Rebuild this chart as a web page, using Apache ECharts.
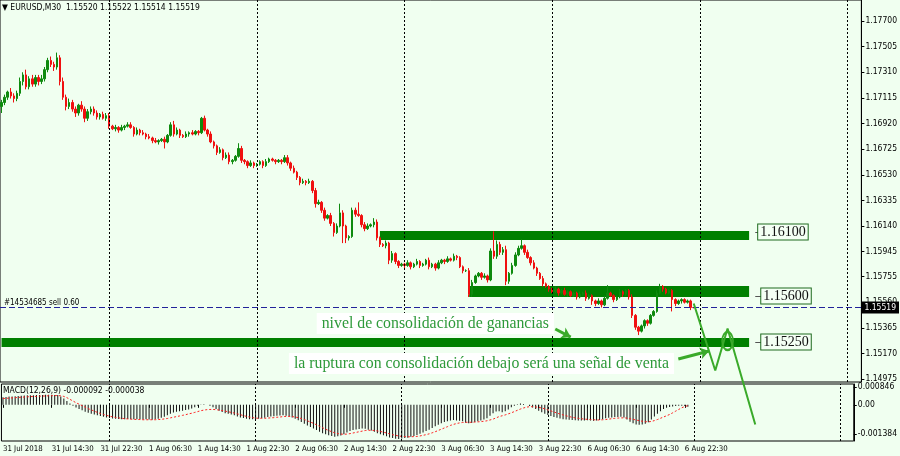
<!DOCTYPE html>
<html><head><meta charset="utf-8">
<script src="https://cdn.jsdelivr.net/npm/echarts@6/dist/echarts.min.js"></script>
<style>html,body{margin:0;padding:0;background:#F0FFF0;}#c{width:900px;height:456px;}</style>
</head><body><div id="c"></div>
<script>
const header = '\u25BC EURUSD,M30  1.15520 1.15522 1.15514 1.15519';
const macdTitle = 'MACD(12,26,9) -0.000092 -0.000038';
const firstOpen = 1.1705;
const closes = [
1.1708,1.1712,1.1716,1.1713,1.1711,1.1715,1.1724,1.1729,1.1720,1.1726,
1.1722,1.1727,1.1724,1.1726,1.1733,1.1740,1.1737,1.1735,1.1742,1.1724,
1.1712,1.1705,1.1708,1.1703,1.1700,1.1706,1.1703,1.1696,1.1701,1.1703,
1.1700,1.1697,1.1699,1.1696,1.1698,1.1690,1.1688,1.1689,1.1687,1.1689,
1.1690,1.1691,1.1689,1.1684,1.1687,1.1685,1.1684,1.1682,1.1681,1.1679,
1.1678,1.1679,1.1680,1.1678,1.1683,1.1691,1.1684,1.1687,1.1683,1.1682,
1.1684,1.1685,1.1684,1.1686,1.1685,1.1696,1.1687,1.1684,1.1678,1.1675,
1.1670,1.1672,1.1666,1.1668,1.1663,1.1664,1.1667,1.1673,1.1664,1.1663,
1.1660,1.1662,1.1660,1.1661,1.1663,1.1660,1.1663,1.1665,1.1664,1.1663,
1.1664,1.1663,1.1666,1.1662,1.1658,1.1655,1.1651,1.1647,1.1648,1.1647,
1.1648,1.1641,1.1631,1.1632,1.1626,1.1620,1.1622,1.1616,1.1609,1.1614,
1.1624,1.1614,1.1605,1.1606,1.1626,1.1623,1.1622,1.1615,1.1612,1.1614,
1.1615,1.1617,1.1605,1.1600,1.1599,1.1601,1.1588,1.1593,1.1587,1.1584,
1.1585,1.1584,1.1586,1.1583,1.1585,1.1587,1.1584,1.1585,1.1588,1.1583,
1.1585,1.1582,1.1586,1.1588,1.1587,1.1589,1.1588,1.1591,1.1590,1.1583,
1.1580,1.1580,1.1562,1.1571,1.1576,1.1578,1.1575,1.1576,1.1573,1.1595,
1.1591,1.1600,1.1594,1.1596,1.1572,1.1578,1.1584,1.1592,1.1597,1.1599,
1.1594,1.1590,1.1586,1.1582,1.1578,1.1574,1.1570,1.1568,1.1566,1.1564,
1.1566,1.1563,1.1565,1.1562,1.1564,1.1561,1.1563,1.1560,1.1562,1.1563,
1.1559,1.1561,1.1557,1.1555,1.1557,1.1554,1.1559,1.1563,1.1561,1.1558,
1.1560,1.1564,1.1562,1.1565,1.1560,1.1546,1.1537,1.1534,1.1538,1.1542,
1.1540,1.1546,1.1549,1.1563,1.1568,1.1566,1.1563,1.1565,1.1558,1.1555,
1.1557,1.1558,1.1556,1.1557,1.1552,1.15519];
const upWick = [
2,2,1,3,2,2,3,2,4,2, 3,2,2,3,2,2,3,2,4,2, 3,2,3,2,2,1,3,2,2,2, 2,2,1,2,2,2,1,2,1,2,
1,2,2,1,2,1,2,1,2,1, 2,1,1,2,1,2,3,2,1,1, 2,1,2,1,1,1,2,1,2,1, 1,2,1,2,2,1,1,4,2,1,
1,2,1,1,1,1,2,1,1,1, 1,1,2,2,1,2,1,1,2,1, 2,1,2,2,1,2,1,2,1,2, 7,2,1,1,2,2,9,1,2,2,
1,3,2,1,1,2,1,2,1,1, 1,1,2,1,1,2,1,1,1,2, 1,1,2,1,1,2,1,2,1,1, 1,1,2,2,1,1,1,2,1,2,
15,3,2,2,3,1,2,2,2,5, 1,2,1,2,1,1,2,1,1,1, 2,1,1,2,1,1,1,1,2,1, 2,1,1,1,2,1,2,6,1,1,
1,2,1,1,1,2,1,1,1,1, 1,1,1,2,2,1,1,1,1,1, 1,1,1,1,1,0.2];
const dnWick = [
5,2,2,2,3,2,2,3,2,2, 2,2,3,2,2,2,2,3,2,3, 2,3,2,2,3,2,2,3,2,2, 2,2,2,1,2,2,1,2,2,1,
2,1,1,2,1,2,1,2,1,2, 1,2,1,5,1,1,2,1,2,1, 1,2,1,1,2,1,1,2,1,2, 2,1,2,1,2,2,1,1,2,2,
2,1,2,1,1,2,1,1,1,2, 1,2,1,2,2,1,2,2,1,2, 1,2,3,1,2,2,1,2,3,1, 1,13,4,2,1,2,1,2,2,1,
1,2,2,2,1,2,3,2,2,2, 1,2,1,2,1,1,2,1,1,2, 1,2,1,1,2,1,1,1,2,1, 2,1,2,2,1,1,2,1,2,1,
2,2,2,2,3,2,1,1,1,1, 2,1,2,1,2,1,2,1,2,1, 1,2,1,1,2,1,1,2,1,1, 2,1,3,2,1,2,1,1,1,2,
1,1,2,1,2,2,2,3,1,2, 2,1,1,1,1,2,1,1,9,2, 1,2,1,1,2,0.5];
const macd = [
.00036,.00037,.00039,.00040,.00041,.00042,.00043,.00044,.00045,.00046,
.00046,.00047,.00047,.00047,.00048,.00048,.00048,.00047,.00047,.00040,
.00030,.00018,.00006,-.00005,-.00013,-.00020,-.00026,-.00033,-.00038,-.00042,
-.00046,-.00050,-.00053,-.00057,-.00060,-.00063,-.00065,-.00066,-.00067,-.00068,
-.00068,-.00067,-.00068,-.00069,-.00068,-.00069,-.00070,-.00069,-.00070,-.00071,
-.00069,-.00066,-.00062,-.00057,-.00050,-.00043,-.00037,-.00033,-.00030,-.00028,
-.00025,-.00022,-.00018,-.00012,-.00004,.00002,.00003,.00000,-.00004,-.00012,
-.00020,-.00028,-.00034,-.00040,-.00043,-.00046,-.00050,-.00055,-.00060,-.00063,
-.00066,-.00068,-.00069,-.00068,-.00066,-.00064,-.00061,-.00058,-.00056,-.00054,
-.00052,-.00051,-.00049,-.00052,-.00056,-.00060,-.00066,-.00073,-.00082,-.00090,
-.00098,-.00105,-.00112,-.00120,-.00128,-.00135,-.00140,-.00145,-.00148,-.00152,
-.00150,-.00146,-.00140,-.00132,-.00125,-.00120,-.00117,-.00115,-.00113,-.00114,
-.00118,-.00122,-.00128,-.00135,-.00140,-.00145,-.00150,-.00155,-.00158,-.00161,
-.00163,-.00160,-.00158,-.00156,-.00152,-.00148,-.00143,-.00138,-.00132,-.00125,
-.00118,-.00110,-.00102,-.00095,-.00088,-.00082,-.00078,-.00075,-.00072,-.00074,
-.00076,-.00078,-.00085,-.00088,-.00086,-.00082,-.00078,-.00074,-.00070,-.00064,
-.00052,-.00040,-.00032,-.00030,-.00035,-.00030,-.00022,-.00012,-.00004,.00003,
.00006,.00004,.00000,-.00006,-.00013,-.00020,-.00028,-.00035,-.00042,-.00048,
-.00053,-.00058,-.00062,-.00065,-.00068,-.00070,-.00071,-.00072,-.00073,-.00074,
-.00075,-.00074,-.00073,-.00075,-.00076,-.00074,-.00072,-.00068,-.00064,-.00062,
-.00060,-.00058,-.00058,-.00057,-.00060,-.00070,-.00080,-.00088,-.00093,-.00095,
-.00094,-.00090,-.00083,-.00070,-.00055,-.00042,-.00030,-.00020,-.00014,-.00010,
-.00008,-.00006,-.00005,-.00004,-.00006,-.000092];
const signal = [
.00030,.00031,.00032,.00033,.00034,.00035,.00036,.00037,.00038,.00039,
.00040,.00040,.00041,.00042,.00042,.00043,.00043,.00044,.00044,.00043,
.00040,.00034,.00026,.00018,.00010,.00003,-.00004,-.00011,-.00018,-.00024,
-.00030,-.00036,-.00041,-.00046,-.00050,-.00054,-.00057,-.00060,-.00062,-.00064,
-.00066,-.00067,-.00068,-.00069,-.00070,-.00070,-.00071,-.00071,-.00071,-.00071,
-.00071,-.00070,-.00069,-.00067,-.00065,-.00062,-.00059,-.00056,-.00053,-.00050,
-.00047,-.00043,-.00040,-.00036,-.00032,-.00028,-.00025,-.00023,-.00022,-.00022,
-.00023,-.00025,-.00027,-.00030,-.00033,-.00036,-.00039,-.00043,-.00047,-.00051,
-.00055,-.00058,-.00061,-.00063,-.00064,-.00064,-.00064,-.00063,-.00062,-.00061,
-.00059,-.00058,-.00056,-.00055,-.00055,-.00056,-.00058,-.00061,-.00065,-.00070,
-.00076,-.00082,-.00088,-.00095,-.00102,-.00109,-.00116,-.00122,-.00128,-.00133,
-.00137,-.00139,-.00140,-.00139,-.00137,-.00134,-.00131,-.00128,-.00125,-.00122,
-.00121,-.00121,-.00122,-.00124,-.00127,-.00130,-.00134,-.00138,-.00142,-.00145,
-.00148,-.00150,-.00151,-.00152,-.00152,-.00151,-.00150,-.00148,-.00145,-.00142,
-.00138,-.00133,-.00128,-.00122,-.00116,-.00110,-.00104,-.00098,-.00093,-.00089,
-.00086,-.00084,-.00083,-.00083,-.00083,-.00082,-.00081,-.00080,-.00078,-.00076,
-.00072,-.00068,-.00062,-.00056,-.00052,-.00048,-.00043,-.00038,-.00032,-.00026,
-.00020,-.00015,-.00011,-.00009,-.00009,-.00010,-.00012,-.00015,-.00019,-.00024,
-.00029,-.00034,-.00039,-.00044,-.00048,-.00052,-.00056,-.00059,-.00062,-.00064,
-.00066,-.00068,-.00069,-.00070,-.00071,-.00072,-.00072,-.00071,-.00070,-.00068,
-.00066,-.00064,-.00063,-.00062,-.00062,-.00063,-.00066,-.00069,-.00072,-.00075,
-.00078,-.00080,-.00081,-.00079,-.00075,-.00070,-.00064,-.00058,-.00052,-.00046,
-.00038,-.00030,-.00022,-.00014,-.00008,-.000038];
const priceTicks = [1.17700,1.17505,1.17310,1.17115,1.16920,1.16725,1.16530,1.16335,1.16140,1.15945,1.15755,1.15560,1.15365,1.15170,1.14975];
const macdTicks = [0.000846, 0, -0.001384];
const timeLabels = ['31 Jul 2018','31 Jul 14:30','31 Jul 22:30','1 Aug 06:30','1 Aug 14:30','1 Aug 22:30','2 Aug 06:30','2 Aug 14:30','2 Aug 22:30','3 Aug 06:30','3 Aug 14:30','3 Aug 22:30','6 Aug 06:30','6 Aug 14:30','6 Aug 22:30'];
const labelStep = 16;
const daySeparators = [35,83,131,179,227,275];
const zones = [
  {from:123, to:243, top:1.16102, bottom:1.16033},
  {from:152, to:243, top:1.15683, bottom:1.15600},
  {from:0,   to:243, top:1.15288, bottom:1.15219}];
const levelLabels = [
  {text:'1.16100', at:254, price:1.16094},
  {text:'1.15600', at:255, price:1.15607},
  {text:'1.15250', at:255, price:1.15257}];
const levelDash = [245, 247];
const forecast = [[225,1.1555],[232,1.1504],[236,1.1536],[245,1.1463]];
const arrows = [[[180,1.15356],[185,1.15295]], [[220,1.15128],[230,1.15189]]];
const circleMark = {at:236, price:1.15265};
const notes = [
  {text:'nivel de consolidación de ganancias', at:141, price:1.15398},
  {text:'la ruptura con consolidación debajo será una señal de venta', at:156, price:1.15094}];
const orderPrice = 1.15519;
const orderLabel = '#14534685 sell 0.60';
const currentPrice = '1.15519';

const N = 280;
const months = ['Jan','Feb','Mar','Apr','May','Jun','Jul','Aug','Sep','Oct','Nov','Dec'];
const cats = [];
let t = Date.UTC(2018,6,31,6,30);
while (cats.length < N) {
  const d = new Date(t); const wd = d.getUTCDay();
  if (wd !== 0 && wd !== 6) cats.push(d.getUTCDate()+' '+months[d.getUTCMonth()]+' '+String(d.getUTCHours()).padStart(2,'0')+':'+String(d.getUTCMinutes()).padStart(2,'0'));
  t += 1800000;
}
const pip = 0.0001;
const candles = closes.map((c,i) => {
  const o = i === 0 ? firstOpen : closes[i-1];
  return [o, c, Math.min(o,c) - dnWick[i]*pip, Math.max(o,c) + upWick[i]*pip];
});
const FONT = "'Liberation Sans Narrow','DejaVu Sans Condensed','Liberation Sans',sans-serif";
const SERIF = "'Liberation Serif','DejaVu Serif',serif";
const GREEN = '#008000', LGREEN = '#3AAA2A', TXTGREEN = '#2E9A3A';
const showLabel = (i) => i % labelStep === 0 && i / labelStep < timeLabels.length;

const chart = echarts.init(document.getElementById('c'), null, {renderer:'canvas'});
chart.setOption({
  animation: false,
  backgroundColor: '#F0FFF0',
  title: [
    {text: header, left: 2, top: 3, padding: 0, textStyle:{fontSize:8.5, fontWeight:'normal', color:'#000', fontFamily:FONT}},
    {text: macdTitle, left: 3, top: 386, padding: 0, textStyle:{fontSize:8.5, fontWeight:'normal', color:'#000', fontFamily:FONT}}
  ],
  grid: [
    {left:-2, right:34, top:0, height:382, show:true, borderColor:'#000', borderWidth:1, backgroundColor:'transparent'},
    {left:-2, right:34, top:384, height:57, show:true, borderColor:'#000', borderWidth:1, backgroundColor:'transparent'}
  ],
  xAxis: [
    {type:'category', gridIndex:0, data:cats, boundaryGap:true, axisLine:{show:false}, axisTick:{show:false}, axisLabel:{show:false}, splitLine:{show:false}},
    {type:'category', gridIndex:1, data:cats, boundaryGap:true, axisLine:{show:false},
     axisTick:{show:true, interval:(i)=>showLabel(i), alignWithLabel:true, length:3, lineStyle:{color:'#000'}},
     axisLabel:{show:true, interval:(i)=>showLabel(i), formatter:(v,i)=>timeLabels[i/labelStep] || '', align:'left', margin:4, fontSize:7.8, color:'#000', fontFamily:FONT},
     splitLine:{show:false}}
  ],
  yAxis: [
    {type:'value', gridIndex:0, position:'right', min:1.14953, max:1.17860,
     axisLine:{show:true, lineStyle:{color:'#000'}},
     axisTick:{show:true, length:3, customValues:priceTicks, lineStyle:{color:'#000'}},
     axisLabel:{customValues:priceTicks, formatter:(v)=>v.toFixed(5), margin:4, fontSize:8.5, color:'#000', fontFamily:FONT},
     splitLine:{show:false}},
    {type:'value', gridIndex:1, position:'right', min:-0.00172, max:0.00099,
     axisLine:{show:true, lineStyle:{color:'#000'}},
     axisTick:{show:true, length:3, customValues:macdTicks, lineStyle:{color:'#000'}},
     axisLabel:{customValues:macdTicks, formatter:(v)=> v === 0 ? '0.00' : v.toFixed(6), margin:4, fontSize:8.5, color:'#000', fontFamily:FONT},
     splitLine:{show:false}}
  ],
  series: [
    {type:'line', xAxisIndex:0, yAxisIndex:0, data:[], z:1, silent:true,
     markArea:{silent:true, itemStyle:{color:GREEN}, data: zones.map(z => [{xAxis:z.from, yAxis:z.top},{xAxis:z.to, yAxis:z.bottom}])},
     markLine:{silent:true, precision:6, symbol:['none','none'], label:{show:false}, lineStyle:{color:'#000', type:[2,2], width:1},
       data: daySeparators.map(i => ({xAxis:i}))}
    },
    {type:'candlestick', xAxisIndex:0, yAxisIndex:0, data:candles, z:3, barWidth:2,
     itemStyle:{color:'#0E8A0E', color0:'#F01010', borderColor:'#0E8A0E', borderColor0:'#F01010', borderWidth:1}
    },
    {type:'line', xAxisIndex:0, yAxisIndex:0, data:forecast, z:6, clip:false, symbol:'none',
     lineStyle:{color:LGREEN, width:2},
     markLine:{silent:true, precision:6, symbol:['none','none'], data:[
       {yAxis:orderPrice, lineStyle:{color:'#22229A', type:[6,3], width:1}, label:{show:true, position:'insideStartTop', formatter:orderLabel, color:'#000', fontSize:8, fontFamily:FONT, distance:[4,1]}},
       {yAxis:orderPrice, lineStyle:{color:'rgba(0,0,0,0)', width:1}, label:{show:true, position:'end', formatter:currentPrice, backgroundColor:'#000', color:'#fff', padding:[2,3,1,3], fontSize:8.5, fontFamily:FONT, distance:0}},
       ...arrows.map(a => [{coord:a[0], symbol:'none'},{coord:a[1], symbol:'arrow', symbolSize:9, lineStyle:{color:LGREEN, width:3, type:'solid'}, label:{show:false}}]),
       ...levelLabels.map(l => [{coord:[levelDash[0], l.price], symbol:'none'},{coord:[levelDash[1], l.price], symbol:'none', lineStyle:{color:'#555', width:1, type:'solid'}, label:{show:false}}])
     ]},
     markPoint:{silent:true, data:[
       {coord:[circleMark.at, circleMark.price], symbol:'circle', symbolSize:[11,18], itemStyle:{color:'rgba(0,0,0,0)', borderColor:LGREEN, borderWidth:2}, label:{show:false}},
       ...notes.map(n => ({coord:[n.at, n.price], symbol:'rect', symbolSize:0,
          label:{show:true, position:'inside', formatter:n.text, color:TXTGREEN, fontFamily:SERIF, fontSize:15.8, backgroundColor:'#fff', padding:[2,5,3,5]}})),
       ...levelLabels.map(l => ({coord:[l.at, l.price], symbol:'rect', symbolSize:0,
          label:{show:true, position:'inside', formatter:l.text, color:'#111', fontFamily:SERIF, fontSize:14, backgroundColor:'#F4FFF4', borderColor:'#1E6B1E', borderWidth:1, padding:[1,2,0,2]}}))
     ]}
    },
    {type:'bar', xAxisIndex:1, yAxisIndex:1, data:macd, barWidth:1, z:2, itemStyle:{color:'#111'},
     markLine:{silent:true, precision:6, symbol:['none','none'], label:{show:false}, lineStyle:{color:'#000', type:[2,2], width:1},
       data: daySeparators.map(i => ({xAxis:i}))}
    },
    {type:'line', xAxisIndex:1, yAxisIndex:1, data:signal, z:3, symbol:'none', lineStyle:{color:'#FF2020', width:1, type:[2,2]}}
  ]
});
</script></body></html>
